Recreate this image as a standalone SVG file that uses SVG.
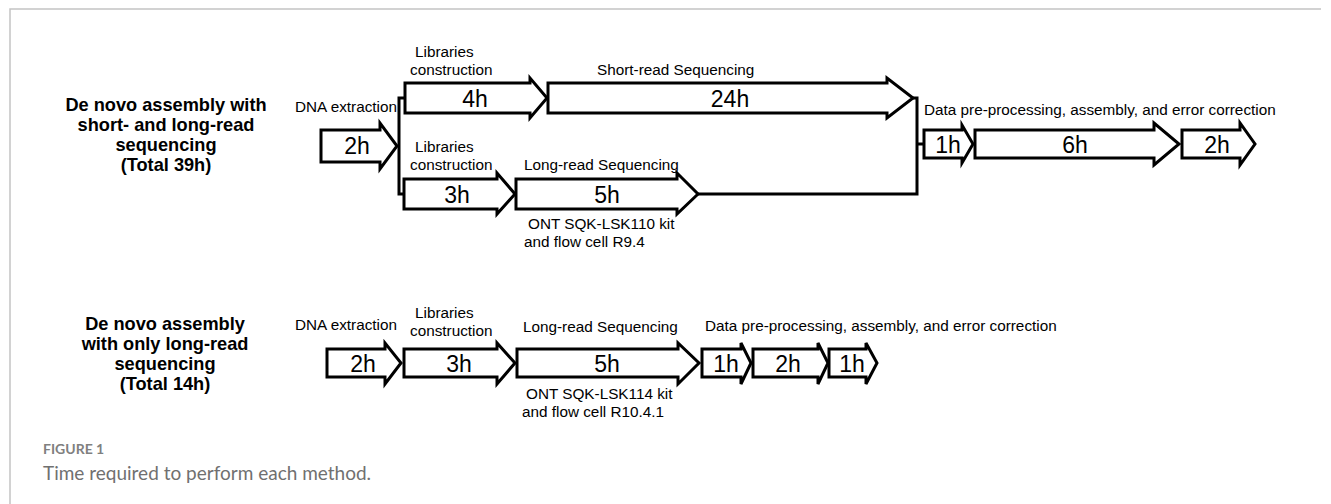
<svg xmlns="http://www.w3.org/2000/svg" width="1331" height="504" viewBox="0 0 1331 504">
<style>
.frame{fill:none;stroke:#c4c4c4;stroke-width:1.5}
.arr{fill:#fff;stroke:#000;stroke-width:3;stroke-linejoin:miter}
.con{fill:none;stroke:#000;stroke-width:3;stroke-linejoin:miter}
.lbl{font-family:"Liberation Sans",Arial,sans-serif;font-size:15.3px;fill:#000}
.num{font-family:"Liberation Sans",Arial,sans-serif;font-size:23px;fill:#000;text-anchor:middle}
.ttl{font-family:"Liberation Sans",Arial,sans-serif;font-size:18.2px;font-weight:bold;fill:#000;text-anchor:middle}
.fig{font-family:Lato,"Liberation Sans",sans-serif;font-size:14px;font-weight:bold;fill:#808080}
.cap{font-family:Lato,"Liberation Sans",sans-serif;font-size:19px;fill:#707070}
</style>
<rect width="1331" height="504" fill="#fff"/>
<path class="frame" d="M10,504 V9 H1321"/>

<g id="title1">
<text class="ttl" x="166" y="111">De novo assembly with</text>
<text class="ttl" x="166" y="131">short- and long-read</text>
<text class="ttl" x="166" y="151">sequencing</text>
<text class="ttl" x="166" y="171">(Total 39h)</text>
</g>
<g id="title2">
<text class="ttl" x="165" y="330">De novo assembly</text>
<text class="ttl" x="165" y="350">with only long-read</text>
<text class="ttl" x="165" y="370">sequencing</text>
<text class="ttl" x="165" y="390">(Total 14h)</text>
</g>

<g id="connectors">
<path class="con" d="M405,98 H399 V194 H404"/>
<path class="con" d="M913,98 H917 V194 H698"/>
<path class="con" d="M917,144 H924"/>
</g>

<g id="t-dna">
<text class="lbl" x="295" y="112">DNA extraction</text>
<path class="arr" d="M321,130 H380 V123 L397,146 L380,169 V162 H321 Z"/>
<text class="num" x="357" y="154">2h</text>
</g>
<g id="t-lib1">
<text class="lbl" x="415" y="57">Libraries</text>
<text class="lbl" x="410" y="75">construction</text>
<path class="arr" d="M405,83 H530 V78 L547,98 L530,118 V113 H405 Z"/>
<text class="num" x="475" y="107">4h</text>
</g>
<g id="t-short">
<text class="lbl" x="597" y="75">Short-read Sequencing</text>
<path class="arr" d="M548,83 H887 V78 L913,98 L887,118 V113 H548 Z"/>
<text class="num" x="730" y="107">24h</text>
</g>
<g id="t-lib2">
<text class="lbl" x="415" y="152">Libraries</text>
<text class="lbl" x="410" y="170">construction</text>
<path class="arr" d="M404,179 H497 V173 L515,194 L497,214 V209 H404 Z"/>
<text class="num" x="457" y="203">3h</text>
</g>
<g id="t-long">
<text class="lbl" x="524" y="170">Long-read Sequencing</text>
<path class="arr" d="M516,179 H677 V173 L698,194 L677,214 V209 H516 Z"/>
<text class="num" x="607" y="203">5h</text>
<text class="lbl" x="528" y="229">ONT SQK-LSK110 kit</text>
<text class="lbl" x="524" y="247">and flow cell R9.4</text>
</g>
<g id="t-data">
<text class="lbl" x="924" y="115">Data pre-processing, assembly, and error correction</text>
<path class="arr" d="M924,130 H962 V125 L973,144 L962,163 V158 H924 Z"/>
<text class="num" x="948" y="153">1h</text>
<path class="arr" d="M975,130 H1154 V123 L1179,144 L1154,165 V158 H975 Z"/>
<text class="num" x="1075" y="153">6h</text>
<path class="arr" d="M1182,130 H1240 V123 L1255,144 L1240,165 V158 H1182 Z"/>
<text class="num" x="1217" y="153">2h</text>
</g>

<g id="b-dna">
<text class="lbl" x="295" y="330">DNA extraction</text>
<path class="arr" d="M327,349 H385 V343 L401,363 L385,384 V377 H327 Z"/>
<text class="num" x="363" y="372">2h</text>
</g>
<g id="b-lib">
<text class="lbl" x="415" y="318">Libraries</text>
<text class="lbl" x="410" y="336">construction</text>
<path class="arr" d="M404,349 H497 V343 L515,363 L497,384 V377 H404 Z"/>
<text class="num" x="459" y="372">3h</text>
</g>
<g id="b-long">
<text class="lbl" x="523" y="332">Long-read Sequencing</text>
<path class="arr" d="M517,349 H678 V343 L699,363 L678,384 V377 H517 Z"/>
<text class="num" x="607" y="372">5h</text>
<text class="lbl" x="526" y="399">ONT SQK-LSK114 kit</text>
<text class="lbl" x="522" y="417">and flow cell R10.4.1</text>
</g>
<g id="b-data">
<text class="lbl" x="705" y="331">Data pre-processing, assembly, and error correction</text>
<path class="arr" d="M702,349 H741 V343 L751,363 L741,384 V377 H702 Z"/>
<text class="num" x="726" y="372">1h</text>
<path class="arr" d="M753,349 H818 V343 L828,363 L818,384 V377 H753 Z"/>
<text class="num" x="788" y="372">2h</text>
<path class="arr" d="M829,349 H866 V343 L877,363 L866,384 V377 H829 Z"/>
<text class="num" x="852" y="372">1h</text>
</g>

<g id="caption">
<text class="fig" x="43" y="454">FIGURE 1</text>
<text class="cap" x="43" y="480">Time required to perform each method.</text>
</g>
</svg>
